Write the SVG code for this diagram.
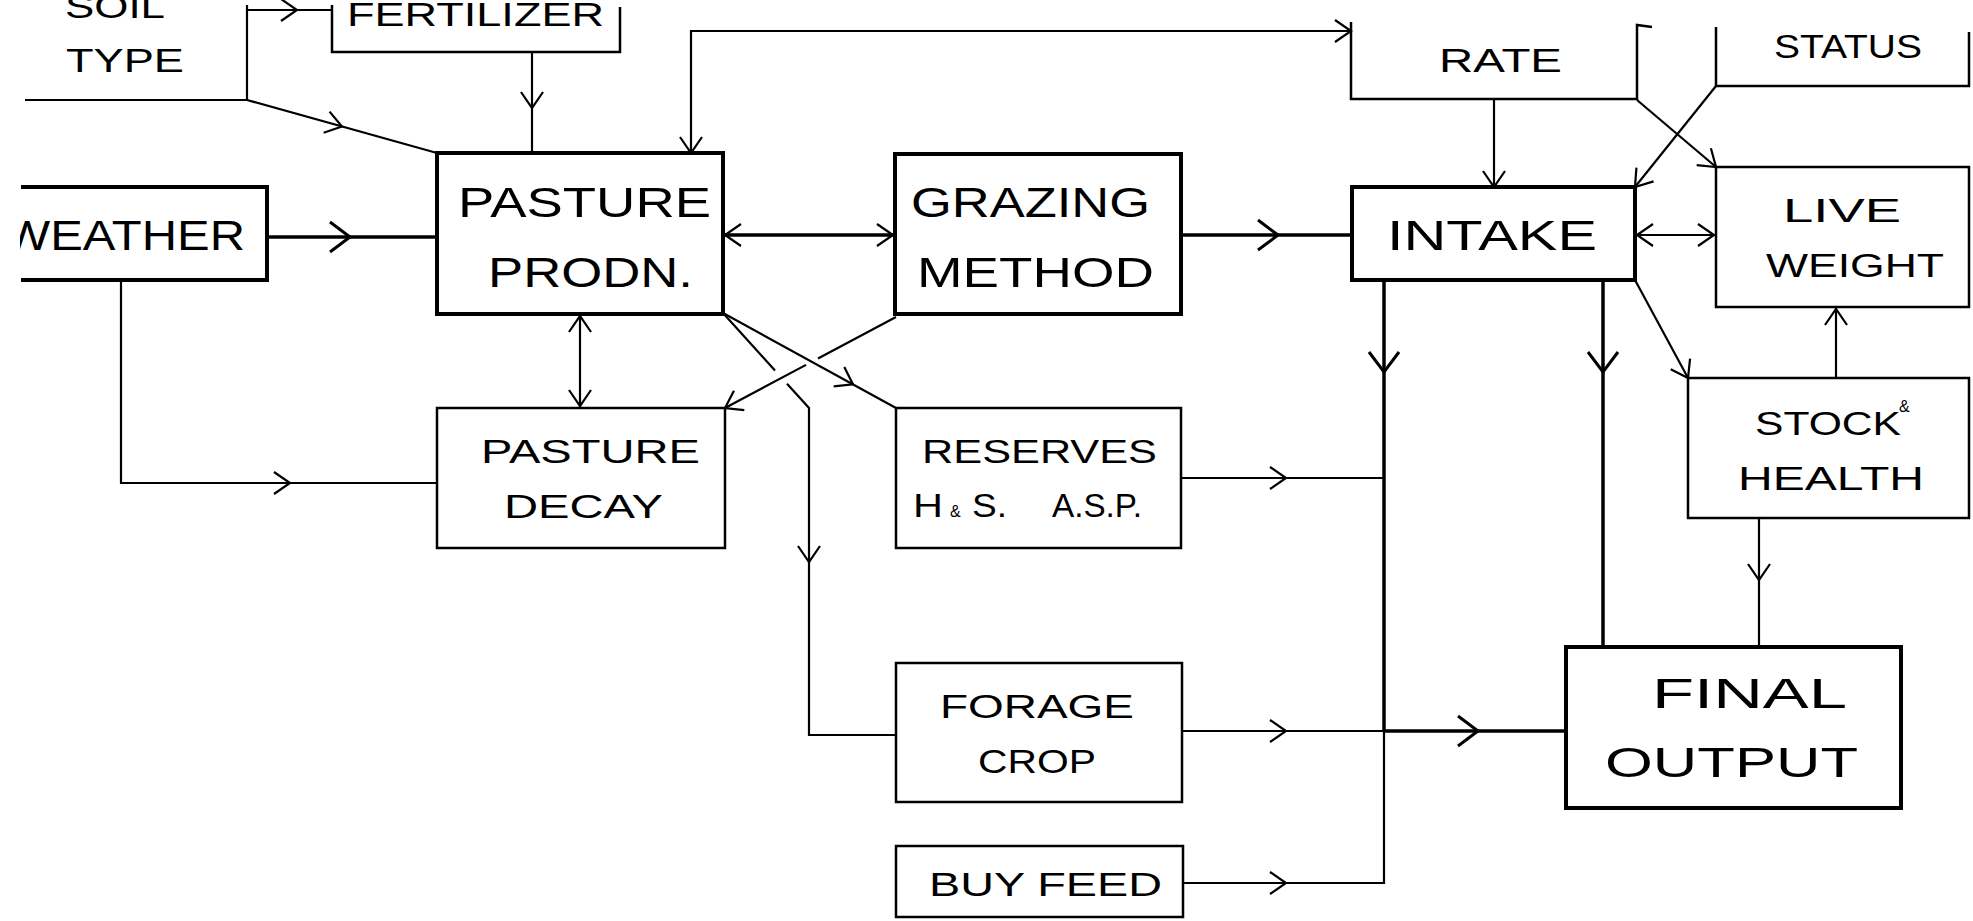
<svg xmlns="http://www.w3.org/2000/svg" width="1973" height="921" viewBox="0 0 1973 921">
<style>
.bx{fill:none;stroke:#000;stroke-width:2.5}
.bk{fill:none;stroke:#000;stroke-width:4}
.ln{fill:none;stroke:#000;stroke-width:2.2}
.lk{fill:none;stroke:#000;stroke-width:3.5}
.t{font-family:"Liberation Sans",Arial,sans-serif;font-size:33px;fill:#000}
.T{font-family:"Liberation Sans",Arial,sans-serif;font-size:43px;fill:#000}
.s{font-family:"Liberation Sans",Arial,sans-serif;font-size:16px;fill:#000}
</style>
<defs>
<path id="a" d="M-16,-11 L0,0 L-16,11" fill="none" stroke="#000" stroke-width="2.2"/>
<path id="A" d="M-20,-15 L0,0 L-20,15" fill="none" stroke="#000" stroke-width="3"/>
<clipPath id="wclip"><rect x="20" y="150" width="300" height="150"/></clipPath>
</defs>
<rect width="1973" height="921" fill="#fff"/>

<g id="soil-type">
<text class="t" x="65" y="18" textLength="100" lengthAdjust="spacingAndGlyphs">SOIL</text>
<text class="t" x="66" y="72" textLength="118" lengthAdjust="spacingAndGlyphs">TYPE</text>
</g>
<g id="fertilizer">
<path class="bx" d="M332,5 V52 H620 V7"/>
<text class="t" x="347" y="26" textLength="257" lengthAdjust="spacingAndGlyphs">FERTILIZER</text>
</g>
<g id="rate">
<path class="bx" d="M1351,22 V99 H1637 V25 L1652,27"/>
<text class="t" x="1439" y="72" textLength="123" lengthAdjust="spacingAndGlyphs">RATE</text>
</g>
<g id="status">
<path class="bx" d="M1716,27 V86 H1969 V32"/>
<text class="t" x="1774" y="58" textLength="148" lengthAdjust="spacingAndGlyphs">STATUS</text>
</g>
<g id="weather">
<path class="bk" d="M21,187 H267 V280 H21"/>
<text class="T" x="4" y="250" textLength="241" lengthAdjust="spacingAndGlyphs" clip-path="url(#wclip)">WEATHER</text>
</g>
<g id="pasture-prodn">
<rect class="bk" x="437" y="153" width="286" height="161"/>
<text class="T" x="458" y="217" textLength="253" lengthAdjust="spacingAndGlyphs">PASTURE</text>
<text class="T" x="488" y="287" textLength="205" lengthAdjust="spacingAndGlyphs">PRODN.</text>
</g>
<g id="grazing-method">
<rect class="bk" x="895" y="154" width="286" height="160"/>
<text class="T" x="911" y="217" textLength="239" lengthAdjust="spacingAndGlyphs">GRAZING</text>
<text class="T" x="917" y="287" textLength="237" lengthAdjust="spacingAndGlyphs">METHOD</text>
</g>
<g id="intake">
<rect class="bk" x="1352" y="187" width="283" height="93"/>
<text class="T" x="1387" y="250" textLength="210" lengthAdjust="spacingAndGlyphs">INTAKE</text>
</g>
<g id="live-weight">
<rect class="bx" x="1716" y="167" width="253" height="140"/>
<text class="t" x="1783" y="222" textLength="118" lengthAdjust="spacingAndGlyphs">LIVE</text>
<text class="t" x="1766" y="277" textLength="178" lengthAdjust="spacingAndGlyphs">WEIGHT</text>
</g>
<g id="pasture-decay">
<rect class="bx" x="437" y="408" width="288" height="140"/>
<text class="t" x="481" y="463" textLength="219" lengthAdjust="spacingAndGlyphs">PASTURE</text>
<text class="t" x="504" y="518" textLength="159" lengthAdjust="spacingAndGlyphs">DECAY</text>
</g>
<g id="reserves">
<rect class="bx" x="896" y="408" width="285" height="140"/>
<text class="t" x="922" y="463" textLength="235" lengthAdjust="spacingAndGlyphs">RESERVES</text>
<text class="t" x="913" y="517" textLength="30" lengthAdjust="spacingAndGlyphs">H</text>
<text class="s" x="950" y="517">&amp;</text>
<text class="t" x="972" y="517" textLength="35" lengthAdjust="spacingAndGlyphs">S.</text>
<text class="t" x="1052" y="517" textLength="90" lengthAdjust="spacingAndGlyphs">A.S.P.</text>
</g>
<g id="stock-health">
<rect class="bx" x="1688" y="378" width="281" height="140"/>
<text class="t" x="1755" y="435" textLength="146" lengthAdjust="spacingAndGlyphs">STOCK</text>
<text class="s" x="1899" y="412">&amp;</text>
<text class="t" x="1738" y="490" textLength="186" lengthAdjust="spacingAndGlyphs">HEALTH</text>
</g>
<g id="forage-crop">
<rect class="bx" x="896" y="663" width="286" height="139"/>
<text class="t" x="940" y="718" textLength="194" lengthAdjust="spacingAndGlyphs">FORAGE</text>
<text class="t" x="978" y="773" textLength="118" lengthAdjust="spacingAndGlyphs">CROP</text>
</g>
<g id="buy-feed">
<rect class="bx" x="896" y="846" width="287" height="71"/>
<text class="t" x="929" y="896" textLength="233" lengthAdjust="spacingAndGlyphs">BUY FEED</text>
</g>
<g id="final-output">
<rect class="bk" x="1566" y="647" width="335" height="161"/>
<text class="T" x="1652" y="708" textLength="195" lengthAdjust="spacingAndGlyphs">FINAL</text>
<text class="T" x="1605" y="777" textLength="253" lengthAdjust="spacingAndGlyphs">OUTPUT</text>
</g>

<g id="connectors">
<path class="ln" d="M25,100 H247 V5 M247,10 H332"/>
<use href="#a" transform="translate(297,10)"/>
<path class="ln" d="M247,100 L437,153"/>
<use href="#a" transform="translate(342,126.5) rotate(15.6)"/>
<path class="ln" d="M532,52 V153"/>
<use href="#a" transform="translate(532,108) rotate(90)"/>
<path class="ln" d="M691,153 V31 H1351"/>
<use href="#a" transform="translate(691,153) rotate(90)"/>
<use href="#a" transform="translate(1351,31)"/>
<path class="lk" d="M267,237 H437"/>
<use href="#A" transform="translate(350,237)"/>
<path class="ln" d="M121,280 V483 H437"/>
<use href="#a" transform="translate(290,483)"/>
<path class="ln" d="M580,314 V408"/>
<use href="#a" transform="translate(580,316) rotate(-90)"/>
<use href="#a" transform="translate(580,406) rotate(90)"/>
<path class="lk" d="M723,235 H895"/>
<use href="#a" transform="translate(725,235) rotate(180)"/>
<use href="#a" transform="translate(893,235)"/>
<path class="lk" d="M1181,235 H1352"/>
<use href="#A" transform="translate(1278,235)"/>
<path class="ln" d="M723,313 L896,408"/>
<use href="#a" transform="translate(853,384.4) rotate(28.8)"/>
<path class="ln" d="M723,313 L775,370.5 M787,383.7 L809,408 V735 H896"/>
<use href="#a" transform="translate(809,562) rotate(90)"/>
<path class="ln" d="M896,317 L818,358.5 M806,364.9 L725,408"/>
<use href="#a" transform="translate(725,408) rotate(152)"/>
<path class="ln" d="M1181,478 H1384"/>
<use href="#a" transform="translate(1286,478)"/>
<path class="ln" d="M1182,731 H1384"/>
<path class="lk" d="M1384,731 H1566"/>
<use href="#a" transform="translate(1286,731)"/>
<use href="#A" transform="translate(1478,731)"/>
<path class="ln" d="M1183,883 H1384 V731"/>
<use href="#a" transform="translate(1286,883)"/>
<path class="lk" d="M1384,280 V731"/>
<use href="#A" transform="translate(1384,372) rotate(90)"/>
<path class="lk" d="M1603,280 V647"/>
<use href="#A" transform="translate(1603,372) rotate(90)"/>
<path class="ln" d="M1635,280 L1688,378"/>
<use href="#a" transform="translate(1688,378) rotate(61.6)"/>
<path class="ln" d="M1494,100 V187"/>
<use href="#a" transform="translate(1494,187) rotate(90)"/>
<path class="ln" d="M1637,100 L1716,167"/>
<use href="#a" transform="translate(1716,167) rotate(40.3)"/>
<path class="ln" d="M1716,86 L1635,187"/>
<use href="#a" transform="translate(1635,187) rotate(128.7)"/>
<path class="ln" d="M1635,235 H1716"/>
<use href="#a" transform="translate(1637,235) rotate(180)"/>
<use href="#a" transform="translate(1714,235)"/>
<path class="ln" d="M1836,378 V307"/>
<use href="#a" transform="translate(1836,309) rotate(-90)"/>
<path class="ln" d="M1759,518 V647"/>
<use href="#a" transform="translate(1759,580) rotate(90)"/>
</g>
</svg>
